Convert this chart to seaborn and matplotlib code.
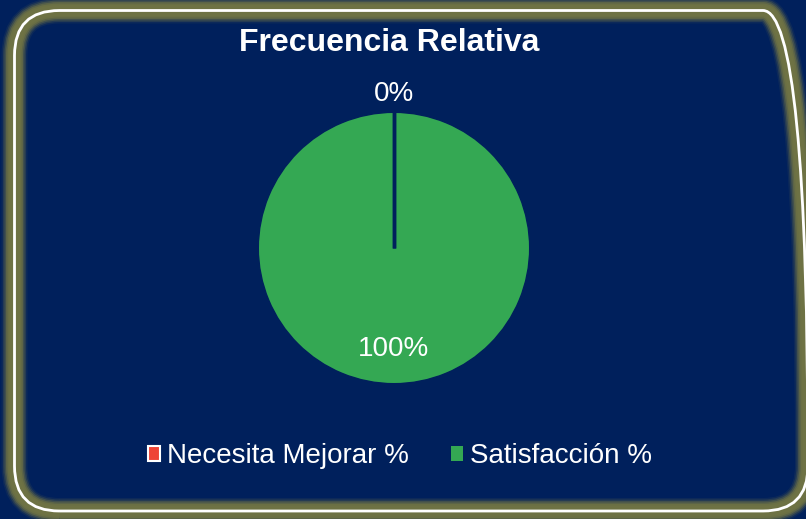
import matplotlib
matplotlib.use("Agg")
import matplotlib.pyplot as plt
import seaborn as sns
from matplotlib.patches import FancyBboxPatch, Patch
import numpy as np

# data
categories = ["Necesita Mejorar %", "Satisfacción %"]
values = [0, 100]
pct_labels = ["0%", "100%"]
colors = ["#EE4436", "#34A853"]

BG = "#00205C"
GLOW = "#6E7244"

sns.set_theme(style="white")
plt.rcParams['font.family'] = ['Liberation Sans', 'DejaVu Sans']

W, H = 806, 519
fig = plt.figure(figsize=(W / 100, H / 100), dpi=100)
fig.patch.set_facecolor(BG)

# background axes in pixel units for the glowing rounded frame
bg = fig.add_axes([0, 0, 1, 1])
bg.set_xlim(0, W)
bg.set_ylim(0, H)
bg.axis("off")
x0, y0, x1, y1 = 14.5, 8, 808, 508.5
def frame(px, color, alpha):
    bg.add_patch(FancyBboxPatch(
        (x0, y0), x1 - x0, y1 - y0,
        boxstyle="round,pad=0,rounding_size=45",
        facecolor="none", edgecolor=color,
        linewidth=px * 0.72, alpha=alpha))

for px, a in [(26, 0.12), (23, 0.25), (20, 0.4), (17, 0.6), (14, 0.8), (11, 1.0)]:
    frame(px, GLOW, a)
frame(2.8, "white", 1.0)

ax = fig.add_axes([259 / W, 136 / H, 270 / W, 270 / H])
ax.set_facecolor(BG)
wedges, _ = ax.pie(values, colors=colors, startangle=90, counterclock=False,
                   wedgeprops=dict(edgecolor=BG, linewidth=1.0))
ax.set_xlim(-0.995, 0.995)
ax.set_ylim(-0.995, 0.995)
ax.set_aspect("equal")
ax.axis("off")

# percent labels + wedge separators
total = sum(values)
start = 90
for v, lab in zip(values, pct_labels):
    span = 360 * v / total
    a0 = np.deg2rad(start)
    ax.plot([0, np.cos(a0)], [0, np.sin(a0)], color=BG, lw=2.5, solid_capstyle="butt")
    mid = np.deg2rad(start - span / 2)
    r = 1.135 if v == 0 else 0.745
    ax.text(r * np.cos(mid), r * np.sin(mid), lab, ha="center", va="center",
            color="white", fontsize=20, clip_on=False)
    start -= span

fig.text(389 / W, 1 - 43 / H, "Frecuencia Relativa", ha="center", va="center",
         color="white", fontsize=23, fontweight="bold")

handles = [Patch(facecolor=colors[0], edgecolor="white", linewidth=1.5),
           Patch(facecolor=colors[1], edgecolor=BG, linewidth=0)]
fig.legend(handles, categories, loc="center", bbox_to_anchor=(400 / W, 1 - 456 / H),
           ncol=2, frameon=False, fontsize=20, labelcolor="white",
           handlelength=0.45, handleheight=0.45, handletextpad=0.25, columnspacing=1.5)

fig.savefig("out.png", dpi=100, facecolor=BG)
